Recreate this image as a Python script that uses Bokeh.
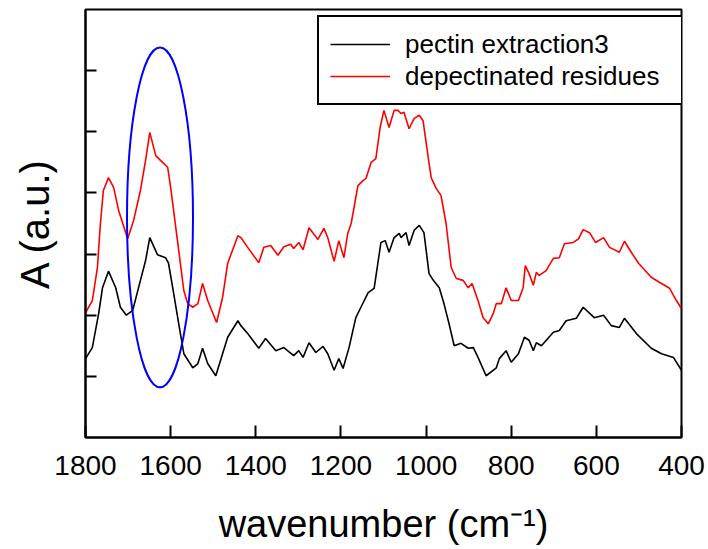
from bokeh.plotting import figure
from bokeh.models import Range1d, FixedTicker, Legend, LegendItem
from bokeh.embed import file_html
from bokeh.resources import INLINE

FONT = "Liberation Sans"

# wavenumber (cm-1) and absorbance (a.u.)
pectin_wn = [1800, 1784, 1769, 1760, 1746, 1729, 1718, 1704, 1689, 1671, 1659, 1649,
             1631, 1612, 1605, 1593, 1581, 1569, 1548, 1536, 1525, 1513, 1494, 1478,
             1466, 1442, 1435, 1419, 1393, 1377, 1353, 1334, 1311, 1299, 1289, 1275,
             1259, 1242, 1231, 1216, 1205, 1195, 1181, 1165, 1153, 1136, 1122, 1106,
             1096, 1087, 1075, 1063, 1059, 1047, 1040, 1028, 1016, 1005, 993, 983,
             969, 958, 946, 934, 918, 901, 889, 878, 859, 835, 828, 812, 800, 783,
             769, 758, 748, 741, 729, 701, 687, 671, 647, 631, 605, 583, 565, 546,
             534, 506, 471, 447, 419, 400]
pectin_abs = [1.29, 1.47, 2.03, 2.45, 2.72, 2.45, 2.13, 2.00, 2.08, 2.57, 2.89, 3.27,
              2.99, 2.94, 2.85, 2.36, 1.86, 1.37, 1.14, 1.21, 1.46, 1.21, 1.01, 1.37,
              1.64, 1.91, 1.83, 1.70, 1.46, 1.62, 1.42, 1.47, 1.34, 1.42, 1.31, 1.55,
              1.39, 1.49, 1.37, 1.10, 1.29, 1.13, 1.47, 1.96, 2.13, 2.37, 2.44, 3.19,
              3.22, 3.03, 3.27, 3.34, 3.27, 3.35, 3.14, 3.39, 3.47, 3.35, 2.68, 2.57,
              2.45, 2.19, 1.86, 1.50, 1.54, 1.46, 1.47, 1.31, 1.01, 1.14, 1.29, 1.42,
              1.23, 1.37, 1.64, 1.59, 1.42, 1.55, 1.50, 1.72, 1.75, 1.91, 1.95, 2.13,
              1.96, 2.00, 1.83, 1.80, 1.95, 1.70, 1.46, 1.37, 1.31, 1.10]

residue_wn = [1800, 1784, 1772, 1765, 1758, 1746, 1734, 1722, 1701, 1687, 1671, 1659,
              1649, 1635, 1619, 1607, 1600, 1584, 1569, 1560, 1548, 1536, 1525, 1513,
              1492, 1478, 1466, 1442, 1435, 1419, 1393, 1381, 1365, 1348, 1334, 1318,
              1311, 1299, 1289, 1275, 1254, 1240, 1231, 1216, 1205, 1193, 1184, 1176,
              1160, 1148, 1141, 1129, 1118, 1113, 1108, 1099, 1087, 1075, 1066, 1059,
              1052, 1040, 1028, 1016, 1007, 995, 988, 976, 965, 953, 941, 929, 913,
              901, 892, 878, 866, 854, 842, 835, 823, 812, 800, 783, 772, 767, 758,
              748, 741, 734, 718, 701, 687, 675, 654, 642, 631, 616, 602, 583, 569,
              546, 534, 518, 501, 471, 452, 428, 412, 400]
residue_abs = [2.04, 2.24, 2.78, 3.50, 4.04, 4.25, 4.09, 3.71, 3.25, 3.55, 4.04, 4.53,
               4.99, 4.61, 4.50, 4.42, 4.09, 3.22, 2.40, 2.19, 2.13, 2.19, 2.52, 2.24,
               1.88, 2.29, 2.85, 3.30, 3.27, 3.11, 2.86, 3.11, 3.14, 2.98, 3.12, 3.16,
               3.09, 3.19, 3.07, 3.43, 3.24, 3.42, 3.27, 2.88, 3.22, 2.94, 3.34, 3.50,
               4.12, 4.20, 4.24, 4.50, 4.56, 4.81, 5.07, 5.35, 5.07, 5.35, 5.35, 5.30,
               5.32, 5.05, 5.22, 5.27, 5.18, 4.58, 4.25, 4.07, 3.96, 3.50, 2.78, 2.60, 2.57,
               2.45, 2.52, 2.24, 1.96, 1.86, 2.03, 2.19, 2.19, 2.45, 2.24, 2.24, 2.45, 2.81, 2.68,
               2.49, 2.70, 2.65, 2.73, 2.93, 2.94, 3.17, 3.19, 3.25, 3.40, 3.35, 3.19, 3.27, 3.11,
               3.03, 3.21, 3.03, 2.85, 2.62, 2.54, 2.44, 2.24, 2.11]

x_ticks = [1800, 1600, 1400, 1200, 1000, 800, 600, 400]
y_ticks = [1, 2, 3, 4, 5, 6]
series_names = ["pectin extraction3", "depectinated residues"]

# highlighted region (blue ellipse)
ell_x, ell_y, ell_w, ell_h = 1625, 3.60, 155, 5.56

p = figure(width=708, height=549, output_backend="svg", toolbar_location=None,
           x_range=Range1d(1800, 400), y_range=Range1d(0, 7),
           min_border_left=85, min_border_right=27, min_border_top=9,
           min_border_bottom=112)

p.grid.visible = False
p.outline_line_color = "black"
p.outline_line_width = 2
p.background_fill_color = "white"
p.border_fill_color = "white"

black = p.line(pectin_wn, pectin_abs, line_color="black", line_width=1.6)
red = p.line(residue_wn, residue_abs, line_color="red", line_width=1.6)
p.ellipse(x=[ell_x], y=[ell_y], width=ell_w, height=ell_h,
          fill_color=None, line_color="#0000ff", line_width=2)

xa = p.xaxis[0]
xa.ticker = FixedTicker(ticks=x_ticks)
xa.major_tick_in = 12
xa.major_tick_out = 0
xa.minor_tick_in = 0
xa.minor_tick_out = 0
xa.major_tick_line_width = 2
xa.axis_line_width = 2
xa.major_label_text_font = FONT
xa.major_label_text_font_size = "28px"
xa.major_label_text_color = "black"
xa.major_label_standoff = 18
xa.axis_label = "wavenumber (cm\u207b\u00b9)"
xa.axis_label_text_font = FONT
xa.axis_label_text_font_size = "38px"
xa.axis_label_text_font_style = "normal"
xa.axis_label_text_color = "black"
xa.axis_label_standoff = 25

ya = p.yaxis[0]
ya.ticker = FixedTicker(ticks=y_ticks)
ya.major_tick_in = 11
ya.major_tick_out = 0
ya.minor_tick_in = 0
ya.minor_tick_out = 0
ya.major_tick_line_width = 2
ya.axis_line_width = 2
ya.major_label_text_font_size = "1px"
ya.major_label_text_color = None
ya.major_label_standoff = 0
ya.axis_label = "A (a.u.)"
ya.axis_label_text_font = FONT
ya.axis_label_text_font_size = "40px"
ya.axis_label_text_font_style = "normal"
ya.axis_label_text_color = "black"
ya.axis_label_standoff = 29

legend = Legend(items=[LegendItem(label=series_names[0], renderers=[black]),
                       LegendItem(label=series_names[1], renderers=[red])],
                location=(232, 332))
legend.label_text_font = FONT
legend.label_text_font_size = "26px"
legend.label_text_color = "black"
legend.glyph_width = 60
legend.glyph_height = 32
legend.label_height = 32
legend.label_width = 265
legend.label_standoff = 15
legend.padding = 11
legend.spacing = 0
legend.margin = 0
legend.border_line_color = "black"
legend.border_line_width = 2
legend.border_line_alpha = 1
legend.background_fill_alpha = 1
p.add_layout(legend)

open("out.html", "w").write(file_html(p, INLINE))
